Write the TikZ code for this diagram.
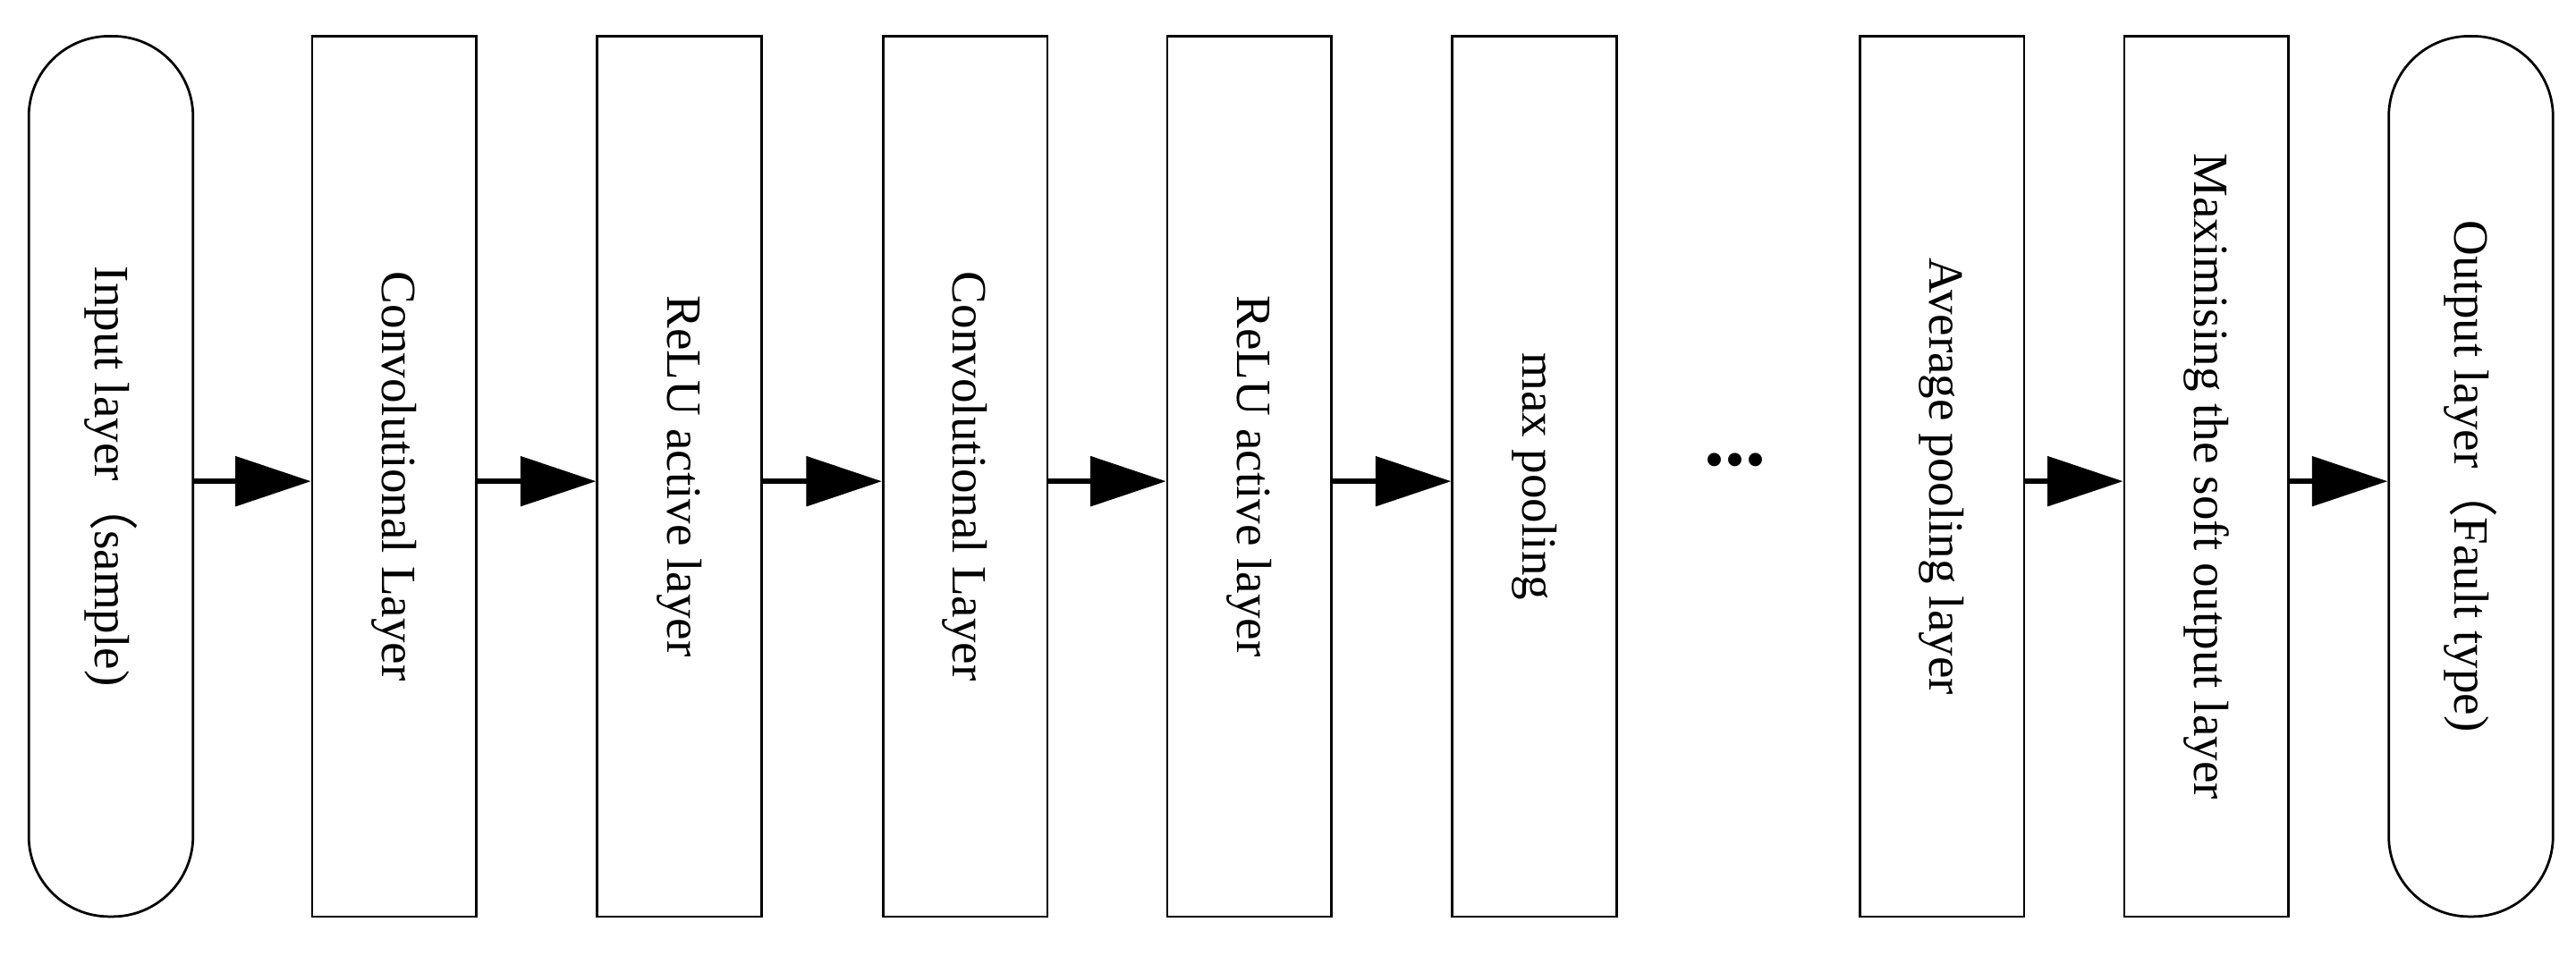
\documentclass[tikz,border=0pt]{standalone}
\usepackage{fontspec}
\setmainfont{Liberation Serif}
\newfontfamily\cjk{Noto Sans CJK SC}
\usetikzlibrary{arrows.meta}
\begin{document}
\begin{tikzpicture}[x=1pt,y=-1pt,
  box/.style={draw,line width=1.5pt,minimum width=100pt,minimum height=536pt,inner sep=0pt},
  term/.style={box,rounded corners=49pt},
  lab/.style={font=\fontsize{30}{34}\selectfont},
  arr/.style={line width=3pt,-{Triangle[length=46pt,width=30pt]}}]
\useasboundingbox (0,0) rectangle (1568,582);
\node[term] (in) at (67.5,290) {};
\node[box] (c1) at (240,290) {};
\node[box] (r1) at (413.5,290) {};
\node[box] (c2) at (587.5,290) {};
\node[box] (r2) at (760.5,290) {};
\node[box] (mp) at (934,290) {};
\node[box] (ap) at (1182,290) {};
\node[box] (sm) at (1343,290) {};
\node[term] (out) at (1504,290) {};
\node[lab,rotate=-90] (tin) at (in) {Input layer{\cjk （}sample)};
\node[lab,rotate=-90] (tc1) at (c1) {Convolutional Layer};
\node[lab,rotate=-90] (tr1) at (r1) {ReLU active layer};
\node[lab,rotate=-90] (tc2) at (c2) {Convolutional Layer};
\node[lab,rotate=-90] (tr2) at (r2) {ReLU active layer};
\node[lab,rotate=-90] (tmp) at (mp) {max pooling};
\node[lab,rotate=-90] (tap) at (ap) {Average pooling layer};
\node[lab,rotate=-90] (tsm) at (sm) {Maximising the soft output layer};
\node[lab,rotate=-90] (tout) at (out) {Output layer{\cjk （}Fault type)};
\node[font=\fontsize{50}{50}\selectfont\bfseries] (dots) at (1056,280) {...};
\foreach \a/\b in {in/c1,c1/r1,r1/c2,c2/r2,r2/mp,ap/sm,sm/out}
  \draw[arr] (\a.east |- 0,293) -- (\b.west |- 0,293);
\end{tikzpicture}
\end{document}
